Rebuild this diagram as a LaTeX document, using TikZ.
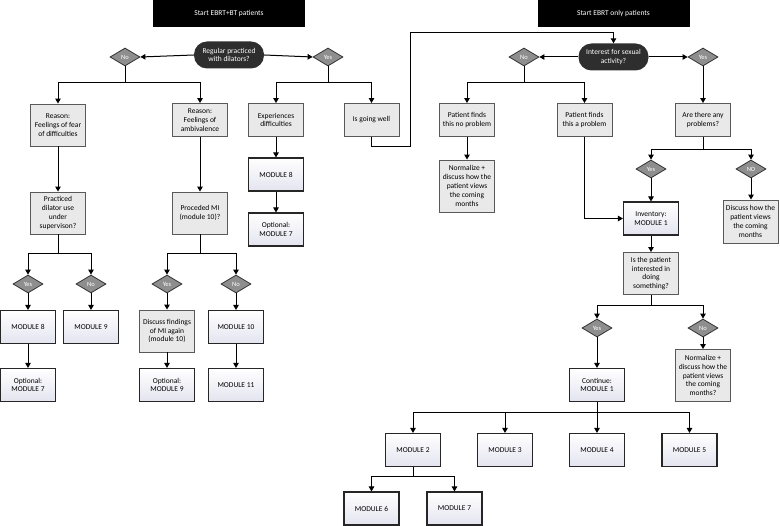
\documentclass[tikz,border=0pt]{standalone}
\usepackage{fontspec}
\setmainfont{Carlito}
\usetikzlibrary{shapes.geometric,arrows.meta,calc}
\definecolor{gfill}{HTML}{E9E9E9}
\definecolor{lav}{HTML}{E4E4F0}
\definecolor{dfill}{HTML}{8E8E8E}
\begin{document}
\begin{tikzpicture}[x=1pt,y=-1pt,
  base/.style={font=\fontsize{7.5}{8.8}\selectfont, align=center, inner sep=1pt},
  gbox/.style={base, draw=black!65, line width=0.9pt, fill=gfill},
  mbox/.style={base, draw=black!85, line width=1.1pt, top color=white, bottom color=lav},
  topbox/.style={base, fill=black, text=white, minimum width=152, minimum height=27},
  oval/.style={base, fill=black!82, text=white, rounded corners=13pt, minimum width=70, minimum height=27},
  dia/.style={diamond, draw=black!80, line width=0.8pt, fill=dfill, text=white, font=\fontsize{6.5}{7}\selectfont, inner sep=0pt, minimum width=30, minimum height=18},
  arr/.style={-{Triangle[length=5pt,width=5.5pt]}, line width=1pt},
  ln/.style={line width=1pt},
  s1/.style={minimum width=55, minimum height=33},
  s2/.style={minimum width=55, minimum height=42},
  s3/.style={minimum width=55, minimum height=52}
]
\useasboundingbox (0,0) rectangle (780,526);

% ---------------- left part ----------------
\node[topbox] (top1) at (229,13.5) {Start EBRT+BT patients};
\node[oval] (o1) at (229,55) {Regular practiced\\with dilators?};
\node[dia] (dno1) at (125,57) {No};
\node[dia] (dyes1) at (328,57) {Yes};

\node[gbox,s2] (r1) at (58,125) {Reason:\\Feelings of fear\\of difficulties};
\node[gbox,s1] (r2) at (200,120) {Reason:\\Feelings of\\ambivalence};
\node[gbox,s1] (exp) at (276,120) {Experiences\\difficulties};
\node[gbox,s1] (well) at (371.5,120) {Is going well};

\node[gbox,s2] (pd) at (58,213) {Practiced\\dilator use\\under\\supervison?};
\node[gbox,s2] (pm) at (200,213) {Proceded MI\\(module 10)?};

\node[dia] (dy2) at (28,284) {Yes};
\node[dia] (dn2) at (91,284) {No};
\node[dia] (dy3) at (167,284) {Yes};
\node[dia] (dn3) at (236,284) {No};

\node[mbox,s1] (m8a) at (28,327) {MODULE 8};
\node[mbox,s1] (m9a) at (91,327) {MODULE 9};
\node[gbox,s2] (disc) at (167,331) {Discuss findings\\of MI again\\(module 10)};
\node[mbox,s1] (m10) at (236,327) {MODULE 10};
\node[mbox,s1] (o7a) at (28,385) {Optional:\\MODULE 7};
\node[mbox,s1] (o9) at (167,385) {Optional:\\MODULE 9};
\node[mbox,s1] (m11) at (236,385) {MODULE 11};

\node[mbox,s1] (m8b) at (276,174.5) {MODULE 8};
\node[mbox,s1] (o7b) at (276,229.5) {Optional:\\MODULE 7};

% ---------------- right part ----------------
\node[topbox] (top2) at (613.5,13.5) {Start EBRT only patients};
\node[oval] (o2) at (613.5,57) {Interest for sexual\\activity?};
\node[dia] (dno4) at (524,57) {No};
\node[dia] (dyes4) at (703,57) {Yes};

\node[gbox,s1] (pnp) at (467,120) {Patient finds\\this no problem};
\node[gbox,s1] (pap) at (584.5,120) {Patient finds\\this a problem};
\node[gbox,s1] (any) at (703,120) {Are there any\\problems?};

\node[gbox,s3] (norm1) at (467,186) {Normalize +\\discuss how the\\patient views\\the coming\\months};

\node[dia] (dy5) at (651,169) {Yes};
\node[dia] (dn5) at (751,169) {NO};
\node[mbox,s1] (inv) at (651,218.5) {Inventory:\\MODULE 1};
\node[gbox,minimum width=55,minimum height=43] (disc2) at (750.5,221.5) {Discuss how the\\patient views\\the coming\\months};

\node[gbox,s2] (isp) at (651,273.5) {Is the patient\\interested in\\doing\\something?};
\node[dia] (dy6) at (597,328) {Yes};
\node[dia] (dn6) at (703,328) {No};
\node[mbox,s1] (cont) at (597,385) {Continue:\\MODULE 1};
\node[gbox,s3] (norm2) at (703,375.5) {Normalize +\\discuss how the\\patient views\\the coming\\months?};

\node[mbox,s1] (m2) at (413,450) {MODULE 2};
\node[mbox,s1] (m3) at (505,450) {MODULE 3};
\node[mbox,s1] (m4) at (597,450) {MODULE 4};
\node[mbox,s1] (m5) at (689.5,450) {MODULE 5};
\node[mbox,s1] (m6) at (371.5,508.5) {MODULE 6};
\node[mbox,s1] (m7) at (454.5,508.5) {MODULE 7};

% ---------------- connectors, left ----------------
\draw[arr] (o1.west) -- (dno1.east);
\draw[arr] (o1.east) -- (dyes1.west);
\coordinate (j1) at (125,83);
\coordinate (j2) at (328,83);
\draw[ln] (dno1.south) -- (j1);
\draw[arr] (j1) -| (r1.north);
\draw[arr] (j1) -| (r2.north);
\draw[ln] (dyes1.south) -- (j2);
\draw[arr] (j2) -| (exp.north);
\draw[arr] (j2) -| (well.north);

\draw[arr] (r1) -- (pd);
\draw[arr] (r2) -- (pm);
\coordinate (j3) at (58,254);
\coordinate (j4) at (200,254);
\draw[ln] (pd.south) -- (j3);
\draw[arr] (j3) -| (dy2.north);
\draw[arr] (j3) -| (dn2.north);
\draw[ln] (pm.south) -- (j4);
\draw[arr] (j4) -| (dy3.north);
\draw[arr] (j4) -| (dn3.north);

\draw[arr] (dy2) -- (m8a);
\draw[arr] (m8a) -- (o7a);
\draw[arr] (dn2) -- (m9a);
\draw[arr] (dy3) -- (disc);
\draw[arr] (disc) -- (o9);
\draw[arr] (dn3) -- (m10);
\draw[arr] (m10) -- (m11);

\draw[arr] (exp) -- (m8b);
\draw[arr] (m8b) -- (o7b);

\coordinate (w1) at (371.5,147);
\coordinate (w2) at (410,147);
\coordinate (w3) at (410,33);
\draw[arr] (well.south) -- (w1) -- (w2) -- (w3) -| (o2.north);

% ---------------- connectors, right ----------------
\draw[arr] (o2.west) -- (dno4.east);
\draw[arr] (o2.east) -- (dyes4.west);
\coordinate (j5) at (524,83);
\draw[ln] (dno4.south) -- (j5);
\draw[arr] (j5) -| (pnp.north);
\draw[arr] (j5) -| (pap.north);
\draw[arr] (dyes4) -- (any);
\draw[arr] (pnp) -- (norm1);

\coordinate (j6) at (703,150);
\draw[ln] (any.south) -- (j6);
\draw[arr] (j6) -| (dy5.north);
\draw[arr] (j6) -| (dn5.north);
\draw[arr] (dy5) -- (inv);
\draw[arr] (dn5.south) -- (disc2.north -| dn5.south);
\draw[arr] (pap.south) |- (inv.west);

\draw[arr] (inv) -- (isp);
\coordinate (j7) at (651,306);
\draw[ln] (isp.south) -- (j7);
\draw[arr] (j7) -| (dy6.north);
\draw[arr] (j7) -| (dn6.north);
\draw[arr] (dy6) -- (cont);
\draw[arr] (dn6) -- (norm2);

\coordinate (j8) at (597,413);
\draw[ln] (cont.south) -- (j8);
\draw[arr] (j8) -| (m2.north);
\draw[arr] (j8) -| (m3.north);
\draw[arr] (j8) -- (m4.north);
\draw[arr] (j8) -| (m5.north);

\coordinate (j9) at (413,477);
\draw[ln] (m2.south) -- (j9);
\draw[arr] (j9) -| (m6.north);
\draw[arr] (j9) -| (m7.north);
\end{tikzpicture}
\end{document}
